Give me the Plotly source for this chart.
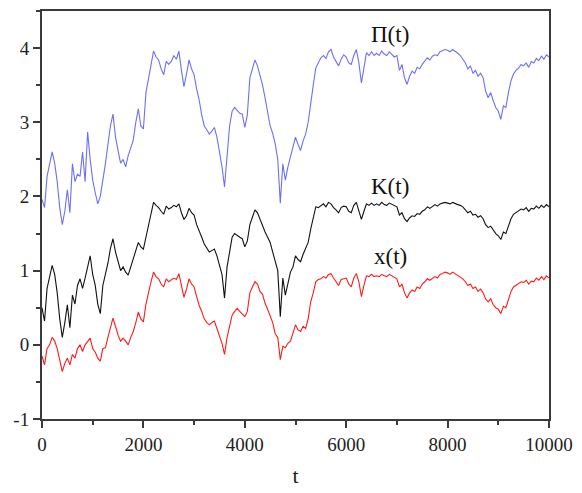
import plotly.graph_objects as go

t = [i * 50 for i in range(201)]

x_t = [-0.15, -0.27, -0.05, 0.0, 0.1, 0.05, -0.05, -0.2, -0.36, -0.25,
       -0.18, -0.27, -0.13, -0.18, -0.05, 0.0, -0.09, 0.0, 0.05, 0.09,
       -0.05, -0.1, -0.18, -0.22, -0.05, -0.04, 0.1, 0.25, 0.36, 0.25,
       0.13, 0.05, 0.09, 0.05, 0.0, 0.1, 0.18, 0.3, 0.44, 0.35,
       0.31, 0.55, 0.71, 0.85, 0.98, 0.92, 0.89, 0.82, 0.78, 0.89,
       0.85, 0.87, 0.9, 0.88, 0.96, 0.8, 0.64, 0.75, 0.89, 0.82,
       0.78, 0.65, 0.53, 0.45, 0.35, 0.3, 0.27, 0.3, 0.32, 0.22,
       0.12, 0.02, -0.13, 0.1, 0.25, 0.4, 0.45, 0.49, 0.45, 0.42,
       0.38, 0.45, 0.7, 0.78, 0.85, 0.82, 0.72, 0.68, 0.56, 0.48,
       0.38, 0.3, 0.15, 0.1, -0.2, -0.02, -0.04, 0.02, 0.05, 0.15,
       0.27, 0.2, 0.18, 0.25, 0.22, 0.35, 0.58, 0.7, 0.85, 0.88,
       0.89, 0.92, 0.9, 0.95, 0.96, 0.9, 0.85, 0.8, 0.88, 0.89,
       0.9, 0.82, 0.78, 0.9, 0.96, 0.85, 0.65, 0.8, 0.93, 0.92,
       0.95, 0.92, 0.93, 0.92, 0.95, 0.93, 0.92, 0.95, 0.93, 0.9,
       0.89, 0.78, 0.82, 0.7, 0.63, 0.7, 0.74, 0.72, 0.78, 0.76,
       0.82, 0.85, 0.89, 0.87, 0.9, 0.92, 0.9, 0.95, 0.96, 0.98,
       0.97, 0.95, 0.98, 0.96, 0.94, 0.92, 0.89, 0.85, 0.8, 0.82,
       0.76, 0.78, 0.72, 0.75, 0.7, 0.62, 0.58, 0.62, 0.54, 0.5,
       0.48, 0.42, 0.52, 0.5, 0.62, 0.72, 0.78, 0.8, 0.82, 0.85,
       0.84, 0.87, 0.82, 0.86, 0.85, 0.9, 0.87, 0.92, 0.88, 0.93,
       0.9]

K_t = [0.5, 0.32, 0.76, 0.9, 1.07, 0.95, 0.7, 0.35, 0.1, 0.3,
       0.54, 0.23, 0.67, 0.55, 0.8, 0.89, 0.76, 0.9, 1.05, 1.2,
       0.95, 0.8, 0.55, 0.42, 0.8, 0.94, 1.1, 1.3, 1.43, 1.25,
       1.12, 1.0, 1.05, 0.98, 0.94, 1.05, 1.16, 1.28, 1.38, 1.32,
       1.29, 1.45, 1.6, 1.75, 1.92, 1.88, 1.85, 1.8, 1.76, 1.87,
       1.83, 1.85, 1.88, 1.86, 1.9, 1.78, 1.69, 1.74, 1.84, 1.78,
       1.75, 1.62, 1.52, 1.45, 1.36, 1.3, 1.25, 1.27, 1.29, 1.2,
       1.06, 0.95, 0.63, 1.05, 1.25, 1.45, 1.5, 1.47, 1.45, 1.43,
       1.32, 1.4, 1.62, 1.72, 1.82, 1.78, 1.69, 1.62, 1.52, 1.45,
       1.38, 1.25, 1.12, 1.0, 0.38, 0.9, 0.67, 0.85, 0.98, 1.05,
       1.2, 1.15, 1.12, 1.22, 1.29, 1.38, 1.56, 1.7, 1.86, 1.85,
       1.87, 1.9, 1.86, 1.92, 1.9, 1.85, 1.82, 1.78, 1.85, 1.87,
       1.86, 1.8, 1.78, 1.88, 1.92, 1.82, 1.69, 1.8, 1.9, 1.88,
       1.91, 1.88, 1.9, 1.88, 1.92, 1.89, 1.88, 1.91, 1.89, 1.87,
       1.86, 1.75, 1.78, 1.7, 1.66, 1.71, 1.74, 1.73, 1.77, 1.76,
       1.8, 1.82, 1.86, 1.84, 1.87, 1.89, 1.87, 1.9, 1.91, 1.92,
       1.91, 1.9, 1.92, 1.9, 1.89, 1.88, 1.86, 1.82, 1.78, 1.8,
       1.75, 1.76, 1.72, 1.74, 1.7, 1.62, 1.58, 1.6, 1.54, 1.5,
       1.47, 1.42, 1.52, 1.5, 1.6, 1.7, 1.76, 1.78, 1.8, 1.83,
       1.82, 1.85, 1.8, 1.84, 1.83, 1.87, 1.84, 1.88, 1.85, 1.89,
       1.86]

Pi_t = [1.96, 1.85, 2.27, 2.45, 2.6, 2.45, 2.2, 1.85, 1.62, 1.8,
        2.09, 1.78, 2.44, 2.2, 2.3, 2.27, 2.6, 2.2, 2.87, 2.5,
        2.22, 2.05, 1.9, 2.0, 2.2, 2.44, 2.7, 2.95, 3.11, 2.8,
        2.62, 2.45, 2.5, 2.4, 2.55, 2.65, 2.76, 3.0, 3.18, 2.95,
        2.91, 3.4, 3.6, 3.8, 3.96, 3.88, 3.84, 3.72, 3.64, 3.82,
        3.78, 3.82, 3.9, 3.85, 3.96, 3.7, 3.48, 3.65, 3.84, 3.72,
        3.64, 3.45, 3.3, 3.1, 2.95, 2.9, 2.84, 2.88, 2.93, 2.8,
        2.6, 2.4, 2.13, 2.6, 2.95, 3.15, 3.2, 3.16, 3.12, 3.11,
        2.93, 3.1, 3.6, 3.72, 3.84, 3.76, 3.64, 3.5, 3.33, 3.15,
        2.95, 2.85, 2.71, 2.5, 1.91, 2.44, 2.22, 2.4, 2.53, 2.65,
        2.8, 2.7, 2.62, 2.75, 2.84, 3.0, 3.29, 3.5, 3.73, 3.8,
        3.87, 3.9, 3.86, 3.95, 3.98, 3.88, 3.82, 3.76, 3.85, 3.91,
        3.88, 3.8, 3.78, 3.9, 3.98, 3.8, 3.53, 3.75, 3.94, 3.9,
        3.95, 3.9, 3.93, 3.9, 3.96, 3.92, 3.9, 3.95, 3.92, 3.88,
        3.9, 3.7, 3.78, 3.6, 3.51, 3.62, 3.69, 3.66, 3.74, 3.72,
        3.78, 3.82, 3.87, 3.84, 3.89, 3.91, 3.9, 3.95, 3.96, 3.98,
        3.97, 3.95, 3.98, 3.96, 3.93, 3.9, 3.85, 3.8, 3.72, 3.76,
        3.66, 3.7, 3.62, 3.66, 3.6, 3.42, 3.33, 3.4, 3.29, 3.2,
        3.15, 3.04, 3.22, 3.2, 3.4, 3.56, 3.65, 3.7, 3.73, 3.78,
        3.76, 3.8, 3.74, 3.82, 3.8, 3.86, 3.83, 3.89, 3.85, 3.91,
        3.88]

labels = ["Π(t)", "K(t)", "x(t)"]
label_x = [6870, 6870, 6870]
label_y = [4.19, 2.13, 1.19]

x_tickvals = [0, 2000, 4000, 6000, 8000, 10000]
x_ticktext = ["0", "2000", "4000", "6000", "8000", "10000"]
y_tickvals = [-1, 0, 1, 2, 3, 4]
y_ticktext = ["-1", "0", "1", "2", "3", "4"]

FONT = "Liberation Serif, Times New Roman, serif"
AX = "#3a3a3a"

fig = go.Figure()
fig.add_trace(go.Scatter(x=t, y=Pi_t, mode="lines", line=dict(color="#6f6ff5", width=1.1), showlegend=False))
fig.add_trace(go.Scatter(x=t, y=K_t, mode="lines", line=dict(color="#111111", width=1.1), showlegend=False))
fig.add_trace(go.Scatter(x=t, y=x_t, mode="lines", line=dict(color="#ff1a1a", width=1.1), showlegend=False))

for lab, lx, ly in zip(labels, label_x, label_y):
    fig.add_annotation(x=lx, y=ly, text=lab, showarrow=False,
                       font=dict(family=FONT, size=23, color="#111"),
                       xanchor="center", yanchor="middle")

fig.update_xaxes(range=[0, 10000], tickvals=x_tickvals, ticktext=x_ticktext,
                 ticks="outside", ticklen=7, tickwidth=1.5, tickcolor=AX,
                 showline=True, linewidth=2, linecolor=AX, mirror=True,
                 showgrid=False, zeroline=False,
                 minor=dict(ticks="outside", ticklen=4, tickwidth=1.5, tickcolor=AX, dtick=1000, tick0=0, showgrid=False),
                 tickfont=dict(family=FONT, size=19, color="#222"),
                 title=dict(text="t", font=dict(family=FONT, size=22, color="#222"), standoff=14))
fig.update_yaxes(range=[-1, 4.5], tickvals=y_tickvals, ticktext=y_ticktext,
                 ticks="outside", ticklen=7, tickwidth=1.5, tickcolor=AX,
                 showline=True, linewidth=2, linecolor=AX, mirror=True,
                 showgrid=False, zeroline=False,
                 minor=dict(ticks="outside", ticklen=4, tickwidth=1.5, tickcolor=AX, dtick=0.5, tick0=0, showgrid=False),
                 tickfont=dict(family=FONT, size=19, color="#222"))

fig.update_layout(width=582, height=493, margin=dict(l=42, r=29, t=9, b=71),
                  plot_bgcolor="white", paper_bgcolor="white")

fig.write_html("out.html")
